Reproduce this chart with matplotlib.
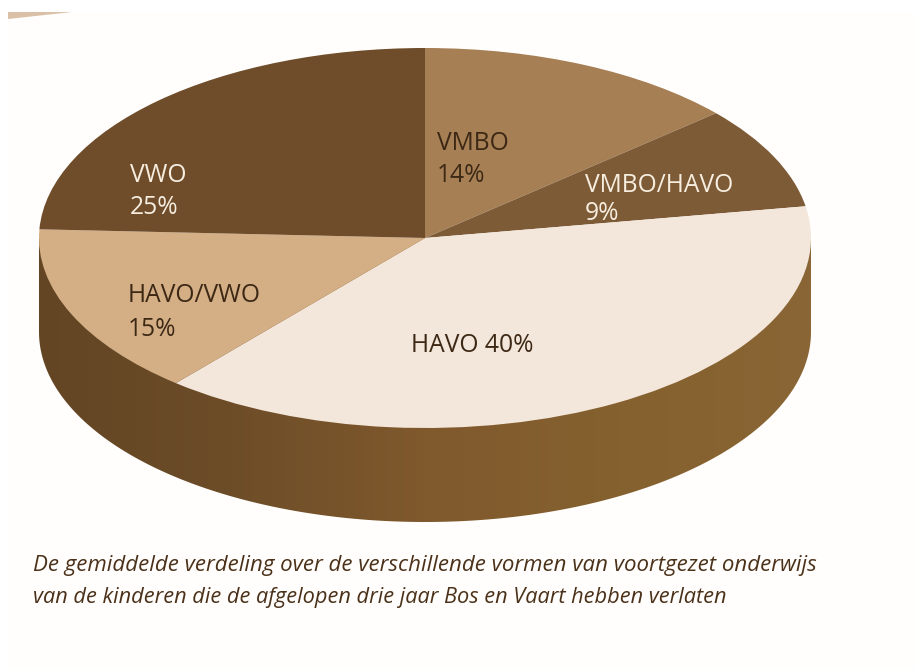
from matplotlib import pyplot as plt
from matplotlib.colors import LinearSegmentedColormap
from matplotlib.patches import Polygon, Rectangle
import numpy as np

categories = ['VMBO', 'VMBO/HAVO', 'HAVO', 'HAVO/VWO', 'VWO']
percentages = [14, 9, 40, 15, 25]
slice_colors = ['#a67f55', '#7e5b37', '#f3e6da', '#d4af86', '#6f4d2b']
caption = ['De gemiddelde verdeling over de verschillende vormen van voortgezet onderwijs',
           'van de kinderen die de afgelopen drie jaar Bos en Vaart hebben verlaten']

W, H = 915, 669
CX, CY, RX, RY = 425, 238, 386, 190
DEPTH = 94 / RY
DARK = '#3c2814'
LIGHT = '#f7eee0'


def main():
    plt.rcParams['font.family'] = ['Open Sans', 'DejaVu Sans']
    fig = plt.figure(figsize=(W / 100, H / 100), dpi=100, facecolor='white')

    # scanned page, slightly off white
    bg = fig.add_axes([0, 0, 1, 1], zorder=0)
    bg.set_xlim(0, W)
    bg.set_ylim(H, 0)
    bg.axis('off')
    bg.add_patch(Rectangle((8, 12), W - 8, H - 12, fc='#fffefc', ec='none'))
    bg.add_patch(Polygon([(8, 12), (72, 12), (8, 19)], fc='#d9c0a6', ec='none'))

    # one data unit is one radius of the ellipse, so the pie comes out squashed
    ax = fig.add_axes([0, 0, 1, 1], zorder=1)
    ax.patch.set_alpha(0)
    ax.pie(percentages, colors=slice_colors, startangle=90, counterclock=False,
           radius=1, center=(0, 0), wedgeprops={'linewidth': 0})
    ax.set_aspect('auto')

    # side of the disc, shaded from left to right
    t = np.linspace(np.pi, 2 * np.pi, 200)
    side_x = np.r_[np.cos(t), 1, -1]
    side_y = np.r_[np.sin(t) - DEPTH, 0, 0]
    side = Polygon(np.c_[side_x, side_y], transform=ax.transData, fc='none', ec='none')
    ax.add_patch(side)
    cmap = LinearSegmentedColormap.from_list('side', ['#634524', '#6d4d28', '#80592d', '#85612f', '#8a6535'])
    img = ax.imshow(np.linspace(0, 1, 256)[None, :], cmap=cmap, aspect='auto',
                    extent=(-1, 1, -1 - DEPTH, 0), zorder=0.5)
    img.set_clip_path(side)

    ax.set_xlim(-CX / RX, (W - CX) / RX)
    ax.set_ylim((CY - H) / RY, CY / RY)
    ax.axis('off')

    # labels are placed in page pixels
    txt = fig.add_axes([0, 0, 1, 1], zorder=2)
    txt.patch.set_alpha(0)
    txt.set_xlim(0, W)
    txt.set_ylim(H, 0)
    txt.axis('off')

    fs = 17.7
    txt.text(437, 144, categories[0], color=DARK, fontsize=fs, va='center')
    txt.text(437, 176, '%d%%' % percentages[0], color=DARK, fontsize=fs, va='center')
    txt.text(585, 186, categories[1], color=LIGHT, fontsize=fs, va='center')
    txt.text(585, 214, '%d%%' % percentages[1], color=LIGHT, fontsize=fs, va='center')
    txt.text(411, 346, '%s %d%%' % (categories[2], percentages[2]), color=DARK, fontsize=fs, va='center')
    txt.text(128, 296, categories[3], color=DARK, fontsize=fs, va='center')
    txt.text(128, 329, '%d%%' % percentages[3], color=DARK, fontsize=fs, va='center')
    txt.text(130, 176, categories[4], color=LIGHT, fontsize=fs, va='center')
    txt.text(130, 208, '%d%%' % percentages[4], color=LIGHT, fontsize=fs, va='center')

    txt.text(33, 566, caption[0], color='#4b3119', fontsize=16, style='italic', va='center')
    txt.text(33, 598, caption[1], color='#4b3119', fontsize=15.7, style='italic', va='center')

    fig.savefig('out.png', dpi=100)


if __name__ == '__main__':
    main()
